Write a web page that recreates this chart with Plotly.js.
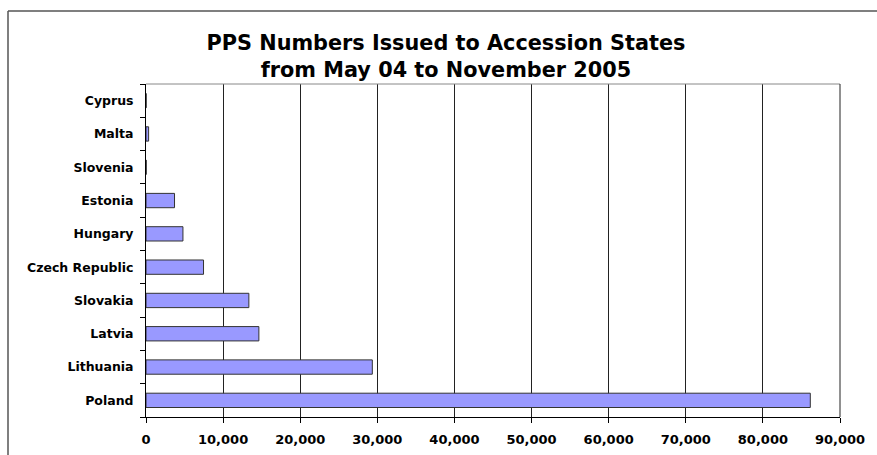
<!DOCTYPE html>
<html>
<head>
<meta charset="utf-8">
<script src="https://cdn.plot.ly/plotly-3.0.1.min.js"></script>
<style>
  html, body { margin: 0; padding: 0; background: #ffffff; }
  #chart { width: 877px; height: 455px; }
</style>
</head>
<body>
<div id="chart"></div>
<script>
// Data (bottom to top)
const countries = ["Poland", "Lithuania", "Latvia", "Slovakia", "Czech Republic",
                   "Hungary", "Estonia", "Slovenia", "Malta", "Cyprus"];
const ppsNumbers = [86150, 29350, 14640, 13340, 7460, 4790, 3700, 30, 340, 20];
const titleLines = ["PPS Numbers Issued to Accession States", "from May 04 to November 2005"];
const xTickValues = [0, 10000, 20000, 30000, 40000, 50000, 60000, 70000, 80000, 90000];

const FONT = "DejaVu Sans, Verdana, sans-serif";

// plot area in pixels: x 146..840, y 84..417
const L = 146, R = 37, T = 84, B = 38, W = 877, H = 455;
const pw = W - L - R, ph = H - T - B;
const px = v => (v - L) / pw;
const py = v => (H - B - v) / ph;

const trace = {
  type: "bar",
  orientation: "h",
  y: countries,
  x: ppsNumbers,
  marker: { color: "#9999FF", line: { color: "#333333", width: 1 } },
  hoverinfo: "x+y"
};

const layout = {
  width: W, height: H, autosize: false,
  margin: { l: L, r: R, t: T, b: B, pad: 0 },
  paper_bgcolor: "#ffffff",
  plot_bgcolor: "#ffffff",
  showlegend: false,
  bargap: 0.57,
  title: {
    text: titleLines.join("<br>"),
    font: { family: FONT, size: 20.8, color: "#000000", weight: "bold" },
    xref: "container", yref: "container",
    x: 446 / W, xanchor: "center",
    y: 1 - 50 / H, yanchor: "middle"
  },
  xaxis: {
    range: [0, 90000],
    tickvals: xTickValues,
    tickformat: ",d",
    showgrid: true, gridcolor: "#222222", gridwidth: 1,
    zeroline: false,
    showline: true, linecolor: "#000000", linewidth: 1,
    ticks: "outside", ticklen: 5, tickcolor: "#000000", tickwidth: 1,
    tickfont: { family: FONT, size: 13, color: "#000000", weight: "bold" },
    ticklabelstandoff: 5,
    fixedrange: true
  },
  yaxis: {
    type: "category",
    categoryorder: "array", categoryarray: countries,
    showgrid: false, zeroline: false,
    showline: true, linecolor: "#000000", linewidth: 1,
    ticks: "outside", tickson: "boundaries", ticklen: 5, tickcolor: "#000000", tickwidth: 1,
    tickfont: { family: FONT, size: 12.5, color: "#000000", weight: "bold" },
    ticklabelstandoff: 9,
    fixedrange: true
  },
  shapes: [
    // chart border: left and top edges
    { type: "line", xref: "paper", yref: "paper",
      x0: px(8), x1: px(8), y0: py(455), y1: py(11),
      line: { color: "#555555", width: 1.5 }, layer: "above" },
    { type: "line", xref: "paper", yref: "paper",
      x0: px(8), x1: px(877), y0: py(11), y1: py(11),
      line: { color: "#555555", width: 1.5 }, layer: "above" },
    // plot area top edge
    { type: "line", xref: "paper", yref: "paper",
      x0: 0, x1: 1, y0: 1, y1: 1,
      line: { color: "#888888", width: 1 } },
    // plot area right edge
    { type: "line", xref: "paper", yref: "paper",
      x0: 1, x1: 1, y0: 0, y1: 1,
      line: { color: "#222222", width: 1 } }
  ]
};

Plotly.newPlot("chart", [trace], layout, { displayModeBar: false, staticPlot: true });
</script>
</body>
</html>
